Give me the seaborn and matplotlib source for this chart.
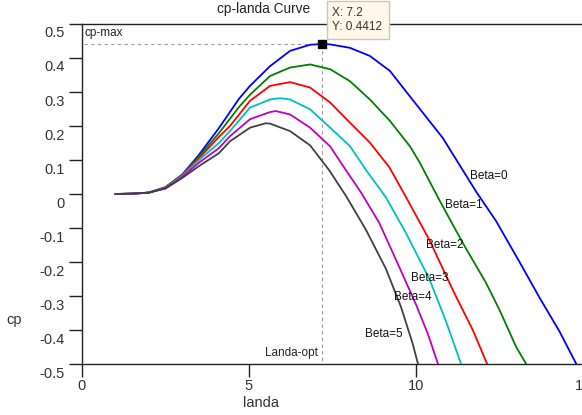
import matplotlib
matplotlib.use("Agg")
import matplotlib.pyplot as plt
import numpy as np
import pandas as pd
import seaborn as sns
from matplotlib.patches import Rectangle
from matplotlib.transforms import ScaledTranslation

# ---- data: power coefficient cp versus tip speed ratio (landa), per pitch angle ----
beta_names = ["Beta=0", "Beta=1", "Beta=2", "Beta=3", "Beta=4", "Beta=5"]

landa_b0 = [1.0, 1.5, 2.0, 2.5, 3.0, 3.5, 4.1, 4.7, 5.03, 5.63, 6.23, 6.83, 7.2,
            7.43, 8.02, 8.62, 9.22, 9.85, 10.8, 11.8, 12.4, 13.1, 13.7, 14.3, 14.8]
cp_b0 = [0.0, 0.001, 0.004, 0.02, 0.057, 0.115, 0.194, 0.28, 0.318, 0.376, 0.421,
         0.439, 0.4412, 0.44, 0.43, 0.406, 0.362, 0.283, 0.165, 0.007, -0.08, -0.2,
         -0.305, -0.405, -0.5]

landa_b1 = [1.0, 1.5, 2.0, 2.5, 3.0, 3.5, 4.1, 4.7, 5.03, 5.63, 6.23, 6.83, 7.43,
            8.02, 8.62, 9.22, 9.82, 10.12, 10.7, 11.4, 12.1, 12.5, 13.0, 13.3]
cp_b1 = [0.0, 0.001, 0.004, 0.02, 0.056, 0.11, 0.179, 0.256, 0.292, 0.347, 0.372,
         0.381, 0.367, 0.332, 0.278, 0.215, 0.14, 0.091, -0.018, -0.144, -0.262,
         -0.341, -0.45, -0.5]

landa_b2 = [1.0, 1.5, 2.0, 2.5, 3.0, 3.5, 4.1, 4.43, 5.03, 5.63, 6.23, 6.83, 7.43,
            8.02, 8.62, 9.2, 9.7, 10.4, 11.1, 11.7, 12.13]
cp_b2 = [0.0, 0.001, 0.004, 0.019, 0.055, 0.105, 0.168, 0.2, 0.274, 0.318, 0.329,
         0.313, 0.269, 0.21, 0.151, 0.079, -0.009, -0.135, -0.282, -0.40, -0.5]

landa_b3 = [1.0, 1.5, 2.0, 2.5, 3.0, 3.5, 4.1, 4.43, 5.03, 5.63, 5.93, 6.23, 6.83,
            7.43, 8.02, 8.5, 9.1, 9.7, 10.4, 10.9, 11.35]
cp_b3 = [0.0, 0.001, 0.004, 0.018, 0.053, 0.1, 0.15, 0.185, 0.254, 0.278, 0.282,
         0.278, 0.249, 0.195, 0.141, 0.071, -0.01, -0.115, -0.25, -0.375, -0.5]

landa_b4 = [1.0, 1.5, 2.0, 2.5, 3.0, 3.5, 4.1, 4.43, 5.03, 5.63, 5.8, 6.23, 6.83,
            7.43, 7.8, 8.35, 8.9, 9.5, 10.0, 10.35, 10.66]
cp_b4 = [0.0, 0.001, 0.004, 0.017, 0.05, 0.092, 0.135, 0.17, 0.22, 0.241, 0.244,
         0.234, 0.195, 0.14, 0.085, 0.005, -0.085, -0.215, -0.325, -0.41, -0.5]

landa_b5 = [1.0, 1.5, 2.0, 2.5, 3.0, 3.5, 4.1, 4.43, 5.03, 5.5, 5.63, 6.23, 6.83,
            7.4, 7.9, 8.5, 9.1, 9.55, 9.9, 10.06]
cp_b5 = [0.0, 0.001, 0.004, 0.016, 0.047, 0.082, 0.12, 0.155, 0.195, 0.208, 0.207,
         0.185, 0.143, 0.07, -0.005, -0.105, -0.22, -0.332, -0.44, -0.5]

opt_landa = 7.2
cp_max = 0.4412

x_ticks = [0, 5, 10, 15]
x_tick_labels = ["0", "5", "10", "15"]
y_ticks = [0.5, 0.4, 0.3, 0.2, 0.1, 0.0, -0.1, -0.2, -0.3, -0.4, -0.5]
y_tick_labels = ["0.5", "0.4", "0.3", "0.2", "0.1", "0", "-0.1", "-0.2", "-0.3", "-0.4", "-0.5"]

line_colors = ["#0000ff", "#008000", "#ff0000", "#00bfbf", "#bf00bf", "#404040"]

# curve label anchors (landa, cp)
label_pos = [(11.62, 0.053), (10.87, -0.032), (10.3, -0.15), (9.85, -0.247),
             (9.34, -0.303), (8.47, -0.412)]

# ---- long-form table ----
series = [(landa_b0, cp_b0), (landa_b1, cp_b1), (landa_b2, cp_b2),
          (landa_b3, cp_b3), (landa_b4, cp_b4), (landa_b5, cp_b5)]
frames = []
for name, (lx, cy) in zip(beta_names, series):
    frames.append(pd.DataFrame({"landa": lx, "cp": cy, "beta": name}))
df = pd.concat(frames, ignore_index=True)

# ---- figure ----
sns.set_style("ticks")
plt.rcParams["font.family"] = ["Liberation Sans", "DejaVu Sans"]

W, H = 582, 415
fig = plt.figure(figsize=(W / 100, H / 100), dpi=100)
fig.patch.set_facecolor("white")

def fx(px):
    return px / W

def fy(py):
    return 1 - py / H

ax = fig.add_axes([fx(82), fy(364), (583 - 82) / W, (364 - 24) / H])
ax.set_facecolor("white")

sns.lineplot(data=df, x="landa", y="cp", hue="beta", hue_order=beta_names,
             palette=line_colors, sort=False, estimator=None, linewidth=1.3,
             legend=False, ax=ax, zorder=3)

ax.set_xlim(0, 15)
ax.set_ylim(-0.5, 0.5)
ax.set_xlabel("")
ax.set_ylabel("")

# optimum point guides
ax.plot([0.06, opt_landa], [cp_max, cp_max], color="#9a9a9a", lw=0.8,
        ls=(0, (3, 3)), zorder=2)
ax.plot([opt_landa, opt_landa], [cp_max, -0.5], color="#9a9a9a", lw=0.8,
        ls=(0, (3, 3)), zorder=2)
ax.plot([opt_landa], [cp_max], marker="s", color="black", ms=5.5, zorder=6,
        clip_on=False)

ax.text(0.06, 0.474, "cp-max", fontsize=8.5, color="#222222", va="center", ha="left")
ax.text(7.07, -0.468, "Landa-opt", fontsize=8.5, color="#222222", va="center", ha="right")

for name, (lx, cy) in zip(beta_names, label_pos):
    ax.text(lx, cy, name, fontsize=8.5, color="#111111", va="center", ha="left", zorder=7)

# axes frame
for side in ["left", "top", "bottom"]:
    ax.spines[side].set_visible(True)
    ax.spines[side].set_color("#222222")
    ax.spines[side].set_linewidth(1.0)
ax.spines["right"].set_visible(False)

ax.set_xticks(x_ticks)
ax.set_xticklabels(x_tick_labels)
ax.set_yticks(y_ticks)
ax.set_yticklabels(y_tick_labels)
ax.tick_params(axis="both", direction="out", length=9.4, width=1.0,
               color="#222222", labelsize=10.5, labelcolor="#333333", pad=1.5)
ax.tick_params(axis="y", pad=3)

# y tick labels sit a little below their ticks
offset = ScaledTranslation(0, -8 / 100, fig.dpi_scale_trans)
for lab in ax.get_yticklabels():
    lab.set_transform(lab.get_transform() + offset)

# titles and axis names
fig.text(fx(264), fy(9), "cp-landa Curve", fontsize=9.8, color="#222222",
         ha="center", va="center")
fig.text(fx(261), fy(403), "landa", fontsize=10.5, color="#333333",
         ha="center", va="center")
fig.text(fx(14), fy(320), "cp", fontsize=10.5, color="#333333",
         ha="center", va="center")

# data tip box
tip = Rectangle((fx(327), fy(39)), (389 - 327) / W, (39 - 1) / H,
                transform=fig.transFigure, facecolor="#fff8ea",
                edgecolor="#cfc6b5", lw=1.0, zorder=10)
fig.add_artist(tip)
fig.text(fx(332), fy(13), f"X: {opt_landa:g}", fontsize=8.5, color="#333333",
         ha="left", va="center", zorder=11)
fig.text(fx(332), fy(27), f"Y: {cp_max:g}", fontsize=8.5, color="#333333",
         ha="left", va="center", zorder=11)

fig.savefig("out.png", dpi=100, facecolor="white")
